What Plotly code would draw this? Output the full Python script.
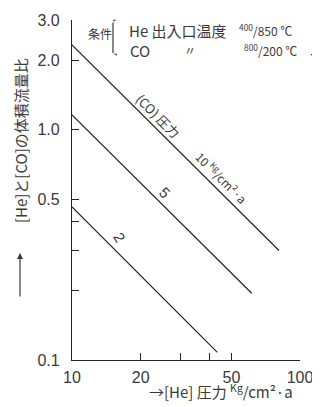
import plotly.graph_objects as go

# ---- data ----
co_pressure = ["10", "5", "2"]               # [CO] pressure, kg/cm2·a
he_start = [10, 10, 10]                      # [He] pressure at line start
he_end = [80.9, 61.4, 43.4]                  # [He] pressure at line end
ratio_start = [2.34, 1.16, 0.463]            # volume flow ratio at start
ratio_end = [0.299, 0.195, 0.108]            # volume flow ratio at end

x_tickvals = [10, 20, 50, 100]
x_ticktext = ["10", "20", "50", "100"]
x_minor_tickvals = [30, 40]
y_tickvals = [0.1, 0.5, 1.0, 2.0, 3.0]
y_ticktext = ["0.1", "0.5", "1.0", "2.0", "3.0"]
y_minor_tickvals = [0.2, 0.3, 0.4]

OFF = 8                       # page body margin of the html page
W, H = 320 - OFF, 407 - OFF
PL, PR, PT, PB = 72, 300, 20, 360   # plot area edges in screen pixels


def px(x, y):
    """screen pixel position -> paper coordinates"""
    return (x - OFF) / W, (H - (y - OFF)) / H


FONT = "Liberation Sans, Noto Sans CJK JP"
CJK = "Noto Sans CJK JP, Liberation Sans"
TXT = "#3a3a3a"

fig = go.Figure()
for i in range(len(co_pressure)):
    fig.add_trace(go.Scatter(
        x=[he_start[i], he_end[i]], y=[ratio_start[i], ratio_end[i]],
        mode="lines", line=dict(color="#222", width=1.2),
        showlegend=False, hoverinfo="skip"))

ann = []


def txt(x, y, s, size=13, angle=0, xanchor="center", font=CJK, color=TXT):
    xp, yp = px(x, y)
    ann.append(dict(x=xp, y=yp, xref="paper", yref="paper", text=s,
                    showarrow=False, textangle=angle, xanchor=xanchor,
                    yanchor="middle", font=dict(family=font, size=size, color=color)))


# curve labels
txt(158, 115, "(CO) 圧力", size=13, angle=45)
txt(222, 177, "10 <sup>Kg</sup>/cm²·a", size=12, angle=45)
txt(165, 192, "5", size=15, angle=45, font=FONT)
txt(120, 237, "2", size=15, angle=60, font=FONT)

# legend / conditions
txt(100, 33, "条件", size=12)
txt(127, 30, "He 出入口温度", size=15, xanchor="left")
txt(237, 30, "<sup>400</sup>/850 ℃", size=12, xanchor="left")
txt(128, 50, "CO", size=15, xanchor="left")
txt(190, 50, "〃", size=12)
txt(242, 50, "<sup>800</sup>/200 ℃", size=12, xanchor="left")

# axis titles
txt(20, 141, "[He]と[CO]の体積流量比", size=15, angle=-90)
txt(221, 391, "→[He] 圧力 <sup>Kg</sup>/cm²·a", size=15)

# vertical arrow for y title
hx, hy = px(20, 253)
ann.append(dict(x=hx, y=hy, xref="paper", yref="paper", text="", showarrow=True,
                ax=0, ay=45, arrowhead=2, arrowsize=1, arrowwidth=1.2, arrowcolor=TXT))


# brackets of the conditions box (headless arrow segments, not clipped)
def seg(a, b):
    bx, by = px(*b)
    ann.append(dict(x=bx, y=by, xref="paper", yref="paper", text="",
                    showarrow=True, arrowhead=0, arrowwidth=1.2, arrowcolor=TXT,
                    ax=a[0] - b[0], ay=a[1] - b[1], standoff=0, startstandoff=0))


def bracket(x_out, x_in, y0, y1):
    pts = [(x_in, y0), (x_out, y0 + 2), (x_out, y1 - 2), (x_in, y1)]
    for a, b in zip(pts[:-1], pts[1:]):
        seg(a, b)


bracket(113, 117, 19, 55)
bracket(315, 311, 19, 55)

axis_common = dict(type="log", showgrid=False, zeroline=False, showline=True,
                   linecolor="#222", linewidth=1.2, ticks="inside", ticklen=7,
                   tickcolor="#222", tickwidth=1.2, automargin=False,
                   tickfont=dict(family=FONT, size=16, color=TXT))

x0p, _ = px(PL, 0)
x1p, _ = px(PR, 0)
_, y0p = px(0, PB)
_, y1p = px(0, PT)

fig.update_layout(
    width=W, height=H,
    margin=dict(l=0, r=0, t=0, b=0, autoexpand=False),
    paper_bgcolor="white", plot_bgcolor="white",
    xaxis=dict(range=[1, 2], tickvals=x_tickvals, ticktext=x_ticktext,
               minor=dict(tickvals=x_minor_tickvals, ticks="inside", ticklen=7,
                          tickcolor="#222", tickwidth=1.2, showgrid=False),
               domain=[x0p, x1p], ticklabelstandoff=3, **axis_common),
    yaxis=dict(range=[-1, 0.4771], tickvals=y_tickvals, ticktext=y_ticktext,
               minor=dict(tickvals=y_minor_tickvals, ticks="inside", ticklen=7,
                          tickcolor="#222", tickwidth=1.2, showgrid=False),
               domain=[y0p, y1p], ticklabelstandoff=8, **axis_common),
    annotations=ann,
)

fig.write_html("out.html")
